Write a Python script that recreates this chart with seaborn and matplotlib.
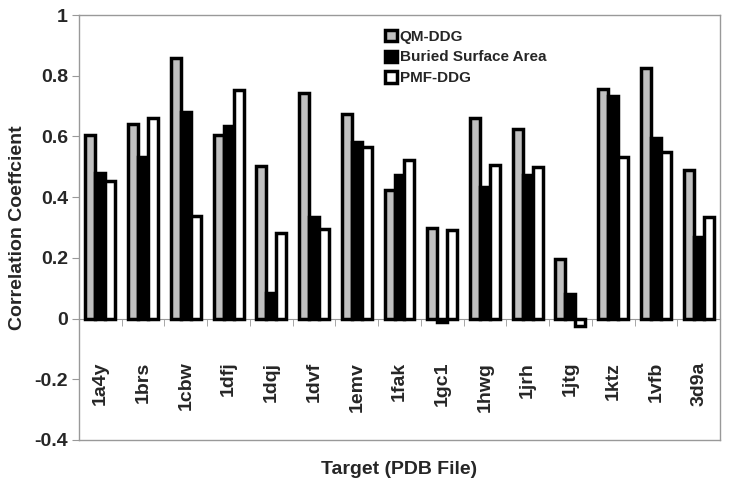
import pandas as pd
import matplotlib.pyplot as plt
import seaborn as sns
import numpy as np

targets = ['1a4y', '1brs', '1cbw', '1dfj', '1dqj', '1dvf', '1emv', '1fak',
           '1gc1', '1hwg', '1jrh', '1jtg', '1ktz', '1vfb', '3d9a']
qm_ddg = [0.605, 0.64, 0.86, 0.605, 0.502, 0.742, 0.675, 0.423,
          0.298, 0.661, 0.624, 0.195, 0.757, 0.824, 0.488]
buried_area = [0.48, 0.533, 0.68, 0.634, 0.085, 0.333, 0.583, 0.473,
               -0.012, 0.432, 0.472, 0.08, 0.734, 0.596, 0.27]
pmf_ddg = [0.453, 0.66, 0.338, 0.752, 0.281, 0.295, 0.565, 0.524,
           0.292, 0.506, 0.499, -0.025, 0.531, 0.55, 0.333]
series = ['QM-DDG', 'Buried Surface Area', 'PMF-DDG']
y_ticks = [-0.4, -0.2, 0, 0.2, 0.4, 0.6, 0.8, 1]

df = pd.DataFrame({'target': targets, series[0]: qm_ddg,
                   series[1]: buried_area, series[2]: pmf_ddg})
df = df.melt(id_vars='target', var_name='method', value_name='corr')

sns.set_style('white')
plt.rcParams['font.family'] = ['Liberation Sans', 'DejaVu Sans']
plt.rcParams['font.weight'] = 'bold'

fig = plt.figure(figsize=(7.29, 4.88), dpi=100)
ax = fig.add_axes([79 / 729, 1 - 440 / 488, 641 / 729, 425 / 488])

sns.barplot(data=df, x='target', y='corr', hue='method', order=targets,
            hue_order=series, palette=['#c0c0c0', 'black', 'white'],
            edgecolor='black', linewidth=2.5, width=0.7, gap=0, ax=ax)

ax.set_ylim(-0.4, 1)
ax.set_xlim(-0.5, len(targets) - 0.5)
ax.set_yticks(y_ticks)
ax.set_yticklabels([f'{t:g}' for t in y_ticks], fontsize=14, fontweight='bold')
ax.tick_params(axis='y', left=True, length=5, color='#999999', pad=3)
ax.set_xticks([])
ax.set_xlabel('Target (PDB File)', fontsize=14, fontweight='bold', labelpad=15)
ax.set_ylabel('Correlation Coeffcient', fontsize=14, fontweight='bold', labelpad=6)
for s in ax.spines.values():
    s.set_visible(True)
    s.set_color('#999999')
    s.set_linewidth(1)

# category axis crossing at zero
sec = ax.secondary_xaxis(0.4 / 1.4)
sec.spines['bottom'].set_color('#999999')
sec.set_xticks(range(len(targets)))
sec.set_xticklabels(targets, rotation=90, fontsize=14, fontweight='bold', va='top')
sec.set_xticks(np.arange(0.5, len(targets) - 0.5, 1), minor=True)
sec.tick_params(axis='x', which='major', length=0, pad=31)
sec.tick_params(axis='x', which='minor', length=5, color='#999999')

ax.legend(title=None, frameon=False, loc='upper left', bbox_to_anchor=(0.468, 0.98),
          prop={'size': 11, 'weight': 'bold'}, handlelength=0.75, handleheight=0.75,
          handletextpad=0.2, labelspacing=0.45, borderaxespad=0)

fig.savefig('out.png', dpi=100)
